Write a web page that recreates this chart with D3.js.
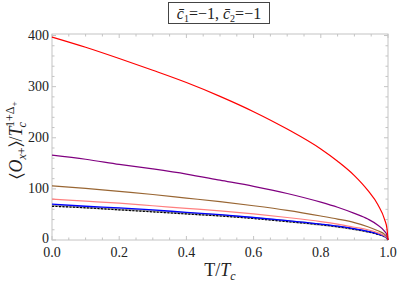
<!DOCTYPE html>
<html>
<head>
<meta charset="utf-8">
<script src="https://cdn.jsdelivr.net/npm/d3@7"></script>
<style>
  body { margin: 0; background: #fff; }
  text { font-family: "Liberation Serif", "Times New Roman", serif; }
</style>
</head>
<body>
<svg id="chart" width="399" height="288"></svg>
<script>
// T/Tc sample points
const tGrid = [0, 0.1, 0.2, 0.3, 0.4, 0.5, 0.6, 0.7, 0.8, 0.85, 0.9, 0.94, 0.97, 0.99, 0.997, 1.0];

const redVals    = [397, 377, 355, 332, 308, 281, 251, 217, 178, 154, 126, 97, 69, 40, 22, 0];
const purpleVals = [166, 158, 148, 139, 129, 117, 105, 91, 74, 64, 52, 41, 29, 17, 9, 0];
const brownVals  = [106, 101, 95, 89, 82, 75, 67, 58, 47, 41, 34, 26, 18, 11, 6, 0];
const pinkVals   = [80, 76, 72, 67, 62, 57, 51, 44, 36, 31, 25, 20, 14, 8, 4.4, 0];
const blueVals   = [70, 66, 63, 59, 54, 49.5, 44, 38, 31, 27, 22, 17, 12, 7, 3.9, 0];
const grayVals   = [67.5, 64, 60, 56.5, 52, 48, 43, 37, 30, 26, 21, 16.5, 12, 6.8, 3.7, 0];
const blackVals  = [66, 63, 59, 55, 51, 47, 42, 36, 30, 26, 21, 16, 11, 6.6, 3.6, 0];

const xTicks = [0, 0.2, 0.4, 0.6, 0.8, 1.0];
const yTicks = [0, 100, 200, 300, 400];

const series = [
  { name: "gray",   vals: grayVals,   color: "#a0a0a0", width: 2.2, dash: null },
  { name: "black",  vals: blackVals,  color: "#000",    width: 1.2, dash: "2,1.5" },
  { name: "blue",   vals: blueVals,   color: "#0000ff", width: 1.3, dash: null },
  { name: "pink",   vals: pinkVals,   color: "#ff8080", width: 1.2, dash: null },
  { name: "brown",  vals: brownVals,  color: "#996633", width: 1.2, dash: null },
  { name: "purple", vals: purpleVals, color: "#800080", width: 1.2, dash: null },
  { name: "red",    vals: redVals,    color: "#ff0000", width: 1.2, dash: null }
];

const svg = d3.select("#chart");
const mLeft = 52, mRight = 388, mTop = 34, mBottom = 240;

const x = d3.scaleLinear().domain([0, 1]).range([mLeft, mRight]);
const y = d3.scaleLinear().domain([0, 403]).range([mBottom, mTop]);

// frame
svg.append("rect")
  .attr("x", mLeft).attr("y", mTop)
  .attr("width", mRight - mLeft).attr("height", mBottom - mTop)
  .attr("fill", "none").attr("stroke", "#c4c4c4").attr("stroke-width", 1);

// ticks (inward, all four sides; labels only bottom/left)
const xMinor = d3.range(0, 1.0001, 0.05);
const yMinor = d3.range(0, 401, 20);
const tickG = svg.append("g").attr("stroke", "#c4c4c4").attr("stroke-width", 1);
xMinor.forEach(v => {
  const major = xTicks.some(t => Math.abs(t - v) < 1e-6);
  const len = major ? 4 : 2.5;
  tickG.append("line").attr("x1", x(v)).attr("x2", x(v)).attr("y1", mBottom).attr("y2", mBottom - len);
  tickG.append("line").attr("x1", x(v)).attr("x2", x(v)).attr("y1", mTop).attr("y2", mTop + len);
});
yMinor.forEach(v => {
  const major = yTicks.includes(v);
  const len = major ? 4 : 2.5;
  tickG.append("line").attr("y1", y(v)).attr("y2", y(v)).attr("x1", mLeft).attr("x2", mLeft + len);
  tickG.append("line").attr("y1", y(v)).attr("y2", y(v)).attr("x1", mRight).attr("x2", mRight - len);
});

svg.append("g").selectAll("text").data(xTicks).enter()
  .append("text")
  .attr("x", d => x(d)).attr("y", mBottom + 17)
  .attr("text-anchor", "middle").attr("font-size", 14).attr("fill", "#222")
  .text(d => d.toFixed(1));

svg.append("g").selectAll("text").data(yTicks).enter()
  .append("text")
  .attr("x", mLeft - 3).attr("y", d => y(d) + (d === 0 ? 3 : 4.5))
  .attr("text-anchor", "end").attr("font-size", 14).attr("fill", "#222")
  .text(d => d);

// curves
const line = d3.line().curve(d3.curveMonotoneX);
series.forEach(s => {
  const pts = tGrid.map((t, i) => [x(t), y(s.vals[i])]);
  svg.append("path")
    .attr("d", line(pts))
    .attr("fill", "none")
    .attr("stroke", s.color)
    .attr("stroke-width", s.width)
    .attr("stroke-dasharray", s.dash);
});

// axis labels
const xl = svg.append("text")
  .attr("x", 220).attr("y", 276)
  .attr("text-anchor", "middle").attr("font-size", 18).attr("fill", "#222");
xl.append("tspan").text("T/");
xl.append("tspan").attr("font-style", "italic").text("T");
xl.append("tspan").attr("font-style", "italic").attr("font-size", 12).attr("dy", 4).text("c");

const yl = svg.append("text")
  .attr("transform", "translate(22,140) rotate(-90)")
  .attr("text-anchor", "middle").attr("font-size", 18).attr("fill", "#222");
yl.append("tspan").text("\u2329");
yl.append("tspan").attr("font-style", "italic").text("O");
yl.append("tspan").attr("font-style", "italic").attr("font-size", 12).attr("dy", 4).text("x");
yl.append("tspan").attr("font-size", 12).text("+");
yl.append("tspan").attr("dy", -4).text("\u232A/");
yl.append("tspan").attr("font-style", "italic").text("T");
yl.append("tspan").attr("font-style", "italic").attr("font-size", 12).attr("dy", 4).attr("dx", -1).text("c");
yl.append("tspan").attr("font-size", 12).attr("dy", -12).attr("dx", -5).text("1+\u0394");
yl.append("tspan").attr("font-size", 9).attr("dy", 3).text("+");

// boxed title
svg.append("rect")
  .attr("x", 168.5).attr("y", 2.5).attr("width", 101).attr("height", 21)
  .attr("fill", "#fff").attr("stroke", "#444").attr("stroke-width", 1);
const tt = svg.append("text")
  .attr("x", 219).attr("y", 18.5)
  .attr("text-anchor", "middle").attr("font-size", 16).attr("fill", "#222");
tt.append("tspan").attr("font-style", "italic").text("c\u0304");
tt.append("tspan").attr("font-size", 10).attr("dy", 3).text("1");
tt.append("tspan").attr("dy", -3).text("=\u22121, ");
tt.append("tspan").attr("font-style", "italic").text("c\u0304");
tt.append("tspan").attr("font-size", 10).attr("dy", 3).text("2");
tt.append("tspan").attr("dy", -3).text("=\u22121");
</script>
</body>
</html>
